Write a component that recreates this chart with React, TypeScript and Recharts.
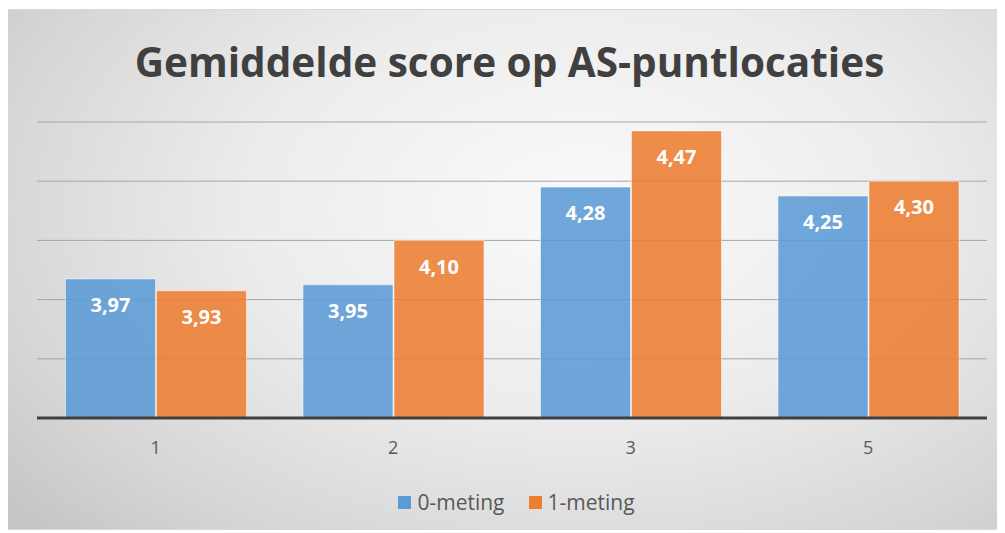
import { Bar, BarChart, CartesianGrid, LabelList, XAxis, YAxis } from "recharts";

const categories = ["1", "2", "3", "5"];
const meting0 = [3.97, 3.95, 4.28, 4.25];
const meting1 = [3.93, 4.1, 4.47, 4.3];
const yTicks = [3.5, 3.7, 3.9, 4.1, 4.3, 4.5];

const data = categories.map((c, i) => ({ cat: c, m0: meting0[i], m1: meting1[i] }));

const BLUE = "#5b9bd5";
const ORANGE = "#ed7d31";
const FONT = "'Open Sans', 'Noto Sans', sans-serif";

const fmt = (v: any) => Number(v).toFixed(2).replace(".", ",");

export default function App() {
  return (
    <div
      style={{
        position: "relative",
        width: 995,
        height: 521,
        marginLeft: -3,
        marginTop: 1,
        fontFamily: FONT,
        background:
          "radial-gradient(ellipse 75% 90% at 58% 38%, #fafafa 0%, #ececec 45%, #d6d6d6 80%, #c6c6c6 100%)",
        border: "1px solid #d9d9d9",
        boxSizing: "border-box",
      }}
    >
      {/* titel */}
      <div
        style={{
          position: "absolute",
          top: 24,
          left: 7,
          width: "100%",
          textAlign: "center",
          fontSize: 40.5,
          fontWeight: 700,
          color: "#404040",
        }}
      >
        Gemiddelde score op AS-puntlocaties
      </div>

      <BarChart
        width={995}
        height={521}
        data={data}
        margin={{ top: 112, right: 14, left: 31, bottom: 63 }}
        barCategoryGap="12%"
        barGap={1}
        style={{ position: "absolute", top: 0, left: 0 }}
      >
        <CartesianGrid vertical={false} stroke="#a6a6a6" strokeWidth={1} />
        <YAxis hide domain={[3.5, 4.5]} ticks={yTicks} />
        <XAxis
          dataKey="cat"
          height={50}
          axisLine={{ stroke: "#404040", strokeWidth: 3 }}
          tickLine={false}
          tick={{ fontSize: 18, fill: "#595959", fontFamily: FONT }}
          tickMargin={17}
        />
        <Bar
          dataKey="m0"
          fill={BLUE}
          fillOpacity={0.88}
          stroke="#ffffff"
          strokeOpacity={0.5}
          isAnimationActive={false}
        >
          <LabelList
            dataKey="m0"
            position="insideTop"
            offset={19}
            formatter={fmt}
            style={{ fill: "#ffffff", fontSize: 20, fontWeight: 700, fontFamily: FONT }}
          />
        </Bar>
        <Bar
          dataKey="m1"
          fill={ORANGE}
          fillOpacity={0.88}
          stroke="#ffffff"
          strokeOpacity={0.5}
          isAnimationActive={false}
        >
          <LabelList
            dataKey="m1"
            position="insideTop"
            offset={19}
            formatter={fmt}
            style={{ fill: "#ffffff", fontSize: 20, fontWeight: 700, fontFamily: FONT }}
          />
        </Bar>
      </BarChart>

      {/* legenda */}
      <div
        style={{
          position: "absolute",
          top: 478,
          left: 14,
          width: "100%",
          display: "flex",
          justifyContent: "center",
          gap: 24,
          fontSize: 21,
          color: "#595959",
        }}
      >
        {[
          { name: "0-meting", color: BLUE },
          { name: "1-meting", color: ORANGE },
        ].map((l) => (
          <div key={l.name} style={{ display: "flex", alignItems: "center", gap: 6 }}>
            <span style={{ width: 13, height: 13, background: l.color, display: "inline-block" }} />
            <span>{l.name}</span>
          </div>
        ))}
      </div>
    </div>
  );
}
